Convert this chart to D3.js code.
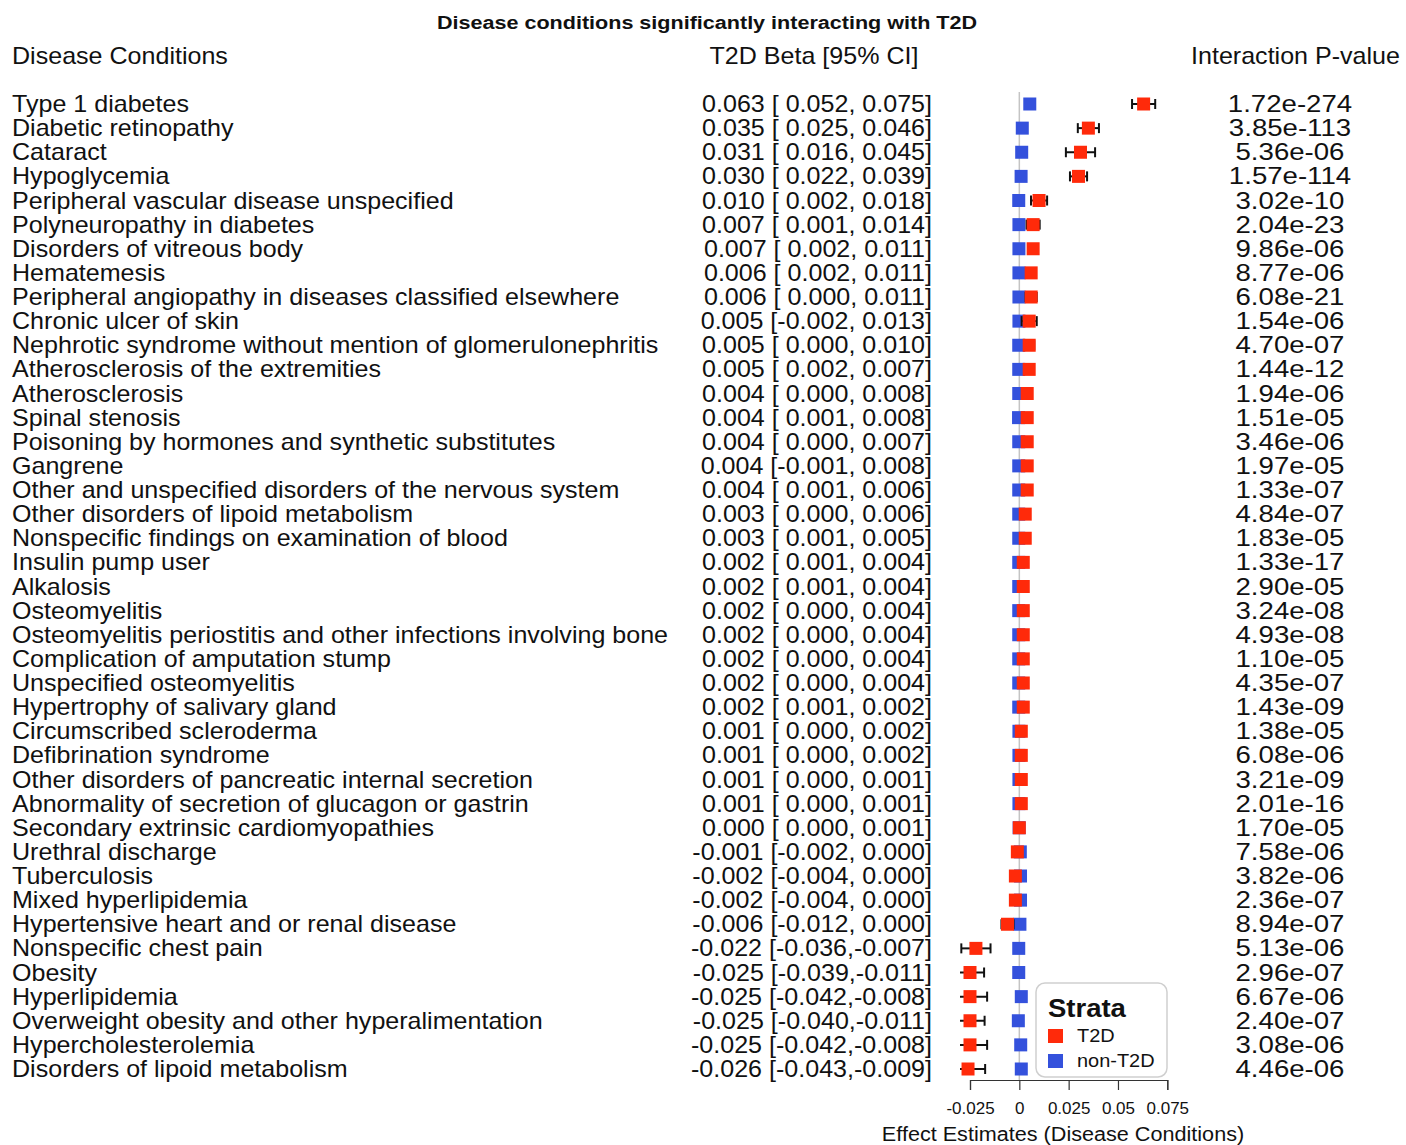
<!DOCTYPE html>
<html>
<head>
<meta charset="utf-8">
<script src="https://cdn.jsdelivr.net/npm/d3@7"></script>
<style>
body { margin: 0; background: #fff; }
text { font-family: "Liberation Sans", Arial, Helvetica, sans-serif; fill: #111; }
.pre { white-space: pre; }
</style>
</head>
<body>
<div class="forest-container"></div>
<script>
var width = 1406;
var height = 1145;

var conditions = [
	"Type 1 diabetes", "Diabetic retinopathy", "Cataract", "Hypoglycemia",
	"Peripheral vascular disease unspecified", "Polyneuropathy in diabetes",
	"Disorders of vitreous body", "Hematemesis",
	"Peripheral angiopathy in diseases classified elsewhere", "Chronic ulcer of skin",
	"Nephrotic syndrome without mention of glomerulonephritis",
	"Atherosclerosis of the extremities", "Atherosclerosis", "Spinal stenosis",
	"Poisoning by hormones and synthetic substitutes", "Gangrene",
	"Other and unspecified disorders of the nervous system",
	"Other disorders of lipoid metabolism", "Nonspecific findings on examination of blood",
	"Insulin pump user", "Alkalosis", "Osteomyelitis",
	"Osteomyelitis periostitis and other infections involving bone",
	"Complication of amputation stump", "Unspecified osteomyelitis",
	"Hypertrophy of salivary gland", "Circumscribed scleroderma", "Defibrination syndrome",
	"Other disorders of pancreatic internal secretion",
	"Abnormality of secretion of glucagon or gastrin", "Secondary extrinsic cardiomyopathies",
	"Urethral discharge", "Tuberculosis", "Mixed hyperlipidemia",
	"Hypertensive heart and or renal disease", "Nonspecific chest pain", "Obesity",
	"Hyperlipidemia", "Overweight obesity and other hyperalimentation",
	"Hypercholesterolemia", "Disorders of lipoid metabolism"
];

// T2D stratum: beta and 95% CI (as printed)
var t2dBeta = [0.063, 0.035, 0.031, 0.030, 0.010, 0.007, 0.007, 0.006, 0.006, 0.005,
	0.005, 0.005, 0.004, 0.004, 0.004, 0.004, 0.004, 0.003, 0.003, 0.002,
	0.002, 0.002, 0.002, 0.002, 0.002, 0.002, 0.001, 0.001, 0.001, 0.001,
	0.000, -0.001, -0.002, -0.002, -0.006, -0.022, -0.025, -0.025, -0.025, -0.025, -0.026];
var t2dLow = [0.052, 0.025, 0.016, 0.022, 0.002, 0.001, 0.002, 0.002, 0.000, -0.002,
	0.000, 0.002, 0.000, 0.001, 0.000, -0.001, 0.001, 0.000, 0.001, 0.001,
	0.001, 0.000, 0.000, 0.000, 0.000, 0.001, 0.000, 0.000, 0.000, 0.000,
	0.000, -0.002, -0.004, -0.004, -0.012, -0.036, -0.039, -0.042, -0.040, -0.042, -0.043];
var t2dHigh = [0.075, 0.046, 0.045, 0.039, 0.018, 0.014, 0.011, 0.011, 0.011, 0.013,
	0.010, 0.007, 0.008, 0.008, 0.007, 0.008, 0.006, 0.006, 0.005, 0.004,
	0.004, 0.004, 0.004, 0.004, 0.004, 0.002, 0.002, 0.002, 0.001, 0.001,
	0.001, 0.000, 0.000, 0.000, 0.000, -0.007, -0.011, -0.008, -0.011, -0.008, -0.009];

// non-T2D stratum estimates
var nonT2dBeta = [0.0053, 0.0015, 0.0012, 0.0009, -0.0003, -0.0002, -0.0002, -0.0002, -0.0002, -0.0002,
	-0.0003, -0.0003, -0.0003, -0.0004, -0.0003, -0.0003, -0.0003, -0.0003, -0.0003, -0.0003,
	-0.0003, -0.0003, -0.0003, -0.0003, -0.0003, -0.0003, -0.0002, -0.0002, -0.0002, -0.0002,
	-0.0001, 0.0005, 0.0006, 0.0006, 0.0003, -0.0003, -0.0003, 0.0010, -0.0005, 0.0007, 0.0010];

var pValues = ["1.72e-274", "3.85e-113", "5.36e-06", "1.57e-114", "3.02e-10", "2.04e-23",
	"9.86e-06", "8.77e-06", "6.08e-21", "1.54e-06", "4.70e-07", "1.44e-12", "1.94e-06",
	"1.51e-05", "3.46e-06", "1.97e-05", "1.33e-07", "4.84e-07", "1.83e-05", "1.33e-17",
	"2.90e-05", "3.24e-08", "4.93e-08", "1.10e-05", "4.35e-07", "1.43e-09", "1.38e-05",
	"6.08e-06", "3.21e-09", "2.01e-16", "1.70e-05", "7.58e-06", "3.82e-06", "2.36e-07",
	"8.94e-07", "5.13e-06", "2.96e-07", "6.67e-06", "2.40e-07", "3.08e-06", "4.46e-06"];

var xTicks = [-0.025, 0, 0.025, 0.05, 0.075];
var xTickLabels = ["-0.025", "0", "0.025", "0.05", "0.075"];

var red = "#ff2a0a";
var blue = "#3451dc";
var box = 13;
var stretch = 1.09; // the reference font runs a little wider than Liberation Sans

var svg = d3.select(".forest-container").append("svg")
	.attr("width", width).attr("height", height);

var x = d3.scaleLinear().domain([-0.025, 0.075]).range([970, 1167.3]);
var y = d3.scalePoint().domain(d3.range(conditions.length)).range([104, 1069]);

/* format a number the way the table prints it */
function fmt(v) {
	var s = Math.abs(v).toFixed(3);
	return (v < 0 ? "-" : " ") + s;
}
function fmtBeta(v) {
	return (v < 0 ? "-" : "") + Math.abs(v).toFixed(3);
}

/* text placed at (tx, ty) and widened by sx */
function wideText(parent, tx, ty, sx, size, anchor) {
	return parent.append("text")
		.attr("transform", "translate(" + tx + "," + ty + ") scale(" + sx + ",1)")
		.attr("text-anchor", anchor || "start")
		.style("font-size", size + "px");
}

function drawTitle() {
	wideText(svg, 707, 29, 1.135, 19, "middle")
		.style("font-weight", "bold")
		.text("Disease conditions significantly interacting with T2D");

	wideText(svg, 12, 64, stretch, 23).text("Disease Conditions");
	wideText(svg, 814, 64, stretch, 23, "middle").text("T2D Beta [95% CI]");
	wideText(svg, 1400, 64, stretch, 23, "end").text("Interaction P-value");
}

function drawTable() {
	var rows = svg.append("g").selectAll("g")
		.data(conditions)
		.join("g")
		.attr("transform", function(d, i) { return "translate(0," + (y(i) + 8) + ")"; });

	rows.each(function(d, i) {
		var row = d3.select(this);
		wideText(row, 12, 0, stretch, 23).text(d);
		wideText(row, 932, 0, stretch, 23, "end").attr("class", "pre")
			.text(fmtBeta(t2dBeta[i]) + " [" + fmt(t2dLow[i]) + "," + fmt(t2dHigh[i]) + "]");
		wideText(row, 1290, 0, 1.15, 24, "middle").text(pValues[i]);
	});
}

function drawPlot() {
	svg.append("line")
		.attr("x1", x(0)).attr("x2", x(0))
		.attr("y1", 92).attr("y2", 1080)
		.attr("stroke", "#c4c4c4").attr("stroke-width", 1.5);

	svg.append("clipPath").attr("id", "panel")
		.append("rect").attr("x", 960).attr("y", 80).attr("width", 230).attr("height", 1010);

	// non-T2D boxes first
	svg.append("g").selectAll("rect")
		.data(nonT2dBeta)
		.join("rect")
		.attr("x", function(d) { return x(d) - box / 2; })
		.attr("y", function(d, i) { return y(i) - box / 2; })
		.attr("width", box).attr("height", box)
		.attr("fill", blue);

	// T2D whiskers (standard error, from the 95% CI)
	var whisk = svg.append("g").attr("clip-path", "url(#panel)")
		.attr("stroke", "#111").attr("stroke-width", 2)
		.selectAll("g")
		.data(t2dBeta)
		.join("g");
	function lo(i) { return x(t2dBeta[i] - (t2dHigh[i] - t2dLow[i]) / 3.92); }
	function hi(i) { return x(t2dBeta[i] + (t2dHigh[i] - t2dLow[i]) / 3.92); }
	whisk.append("line")
		.attr("x1", function(d, i) { return lo(i); })
		.attr("x2", function(d, i) { return hi(i); })
		.attr("y1", function(d, i) { return y(i); })
		.attr("y2", function(d, i) { return y(i); });
	whisk.append("line")
		.attr("x1", function(d, i) { return lo(i); })
		.attr("x2", function(d, i) { return lo(i); })
		.attr("y1", function(d, i) { return y(i) - 5; })
		.attr("y2", function(d, i) { return y(i) + 5; });
	whisk.append("line")
		.attr("x1", function(d, i) { return hi(i); })
		.attr("x2", function(d, i) { return hi(i); })
		.attr("y1", function(d, i) { return y(i) - 5; })
		.attr("y2", function(d, i) { return y(i) + 5; });

	svg.append("g").selectAll("rect")
		.data(t2dBeta)
		.join("rect")
		.attr("x", function(d) { return x(d) - box / 2; })
		.attr("y", function(d, i) { return y(i) - box / 2; })
		.attr("width", box).attr("height", box)
		.attr("fill", red);
}

function drawAxis() {
	var axis = svg.append("g")
		.attr("transform", "translate(0,1080)")
		.call(d3.axisBottom(x).tickValues(xTicks).tickSize(10).tickPadding(12)
			.tickFormat(function(d, i) { return xTickLabels[i]; }));
	axis.select(".domain").attr("stroke", "#333").attr("stroke-width", 1.2);
	axis.selectAll(".tick line").attr("stroke", "#333").attr("stroke-width", 1.2);
	axis.selectAll(".tick text")
		.style("font-family", "'Liberation Sans', Arial, sans-serif")
		.style("font-size", "17px").attr("fill", "#111");

	wideText(svg, 1063, 1141, 1.03, 21, "middle")
		.text("Effect Estimates (Disease Conditions)");
}

function drawLegend() {
	var g = svg.append("g").attr("transform", "translate(1036,983)");
	g.append("rect")
		.attr("width", 131).attr("height", 94).attr("rx", 9)
		.attr("fill", "#fff").attr("stroke", "#cfcfcf").attr("stroke-width", 1.5);
	wideText(g, 12, 34, 1.1, 25).style("font-weight", "bold").text("Strata");
	var items = [{ label: "T2D", color: red }, { label: "non-T2D", color: blue }];
	var it = g.selectAll(".item").data(items).join("g")
		.attr("transform", function(d, i) { return "translate(12," + (46 + i * 25) + ")"; });
	it.append("rect").attr("width", 15).attr("height", 14)
		.attr("fill", function(d) { return d.color; });
	it.each(function(d) {
		wideText(d3.select(this), 29, 13, 1.05, 19).attr("fill", "#333").text(d.label);
	});
}

drawTitle();
drawTable();
drawPlot();
drawAxis();
drawLegend();
</script>
</body>
</html>
